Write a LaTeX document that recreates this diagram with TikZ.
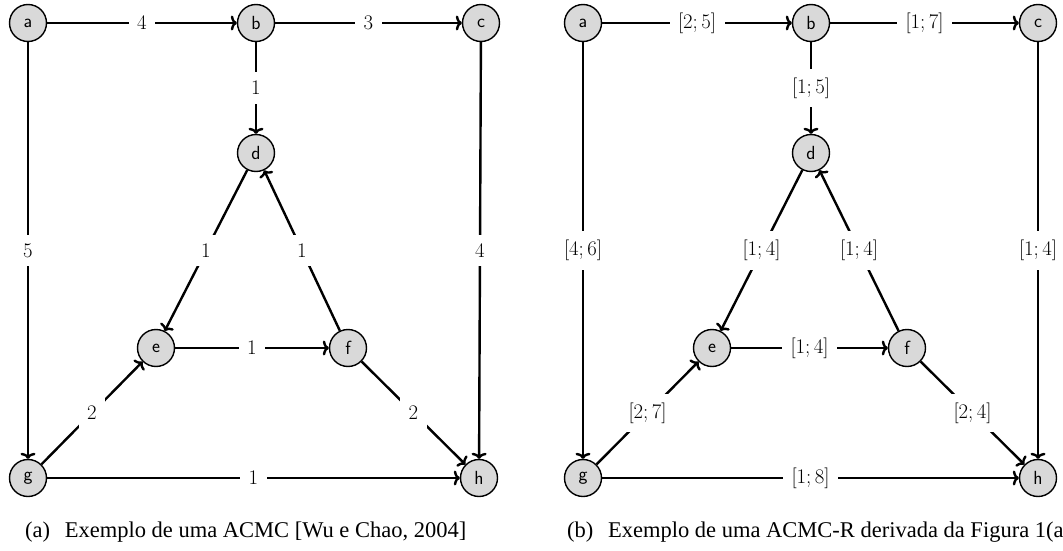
\documentclass[tikz,border=0pt]{standalone}
\usepackage{fontspec}
\newfontfamily\capfont{Liberation Serif}
\usetikzlibrary{arrows.meta}
\begin{document}
\begin{tikzpicture}[x=1pt,y=-1pt,
  vert/.style={circle,draw,line width=1.4pt,fill=black!15,minimum size=37pt,inner sep=0pt,font=\sffamily\fontsize{19}{19}\selectfont},
  edge/.style={line width=2.4pt,-{To[length=6pt,width=15pt]}},
  lbl/.style={fill=white,inner xsep=8.5pt,inner ysep=9pt,font=\fontsize{22}{22}\selectfont},
  captext/.style={font=\capfont\fontsize{22.5}{24}\selectfont,anchor=base west,inner sep=0pt}]
\fill[white] (0,0) rectangle (1063,551);
\useasboundingbox (0,0) rectangle (1063,551);
% ---------- left graph ----------
\node[vert] (a1) at (28,23) {a};
\node[vert] (b1) at (256,23) {b};
\node[vert] (c1) at (481,23) {c};
\node[vert] (d1) at (256,153) {d};
\node[vert] (e1) at (156,348) {e};
\node[vert] (f1) at (348,348) {f};
\node[vert] (g1) at (28,478) {g};
\node[vert] (h1) at (479,478) {h};
\draw[edge] (a1) -- node[lbl]{$4$} (b1);
\draw[edge] (b1) -- node[lbl]{$3$} (c1);
\draw[edge] (b1) -- node[lbl]{$1$} (d1);
\draw[edge] (a1) -- node[lbl]{$5$} (g1);
\draw[edge] (c1) -- node[lbl]{$4$} (h1);
\draw[edge] (d1) -- node[lbl]{$1$} (e1);
\draw[edge] (f1) -- node[lbl]{$1$} (d1);
\draw[edge] (e1) -- node[lbl]{$1$} (f1);
\draw[edge] (g1) -- node[lbl]{$2$} (e1);
\draw[edge] (f1) -- node[lbl]{$2$} (h1);
\draw[edge] (g1) -- node[lbl]{$1$} (h1);
% ---------- right graph ----------
\node[vert] (a2) at (583,23) {a};
\node[vert] (b2) at (811,23) {b};
\node[vert] (c2) at (1038,23) {c};
\node[vert] (d2) at (811,153) {d};
\node[vert] (e2) at (712,348) {e};
\node[vert] (f2) at (907,348) {f};
\node[vert] (g2) at (583,478) {g};
\node[vert] (h2) at (1038,478) {h};
\draw[edge] (a2) -- node[lbl]{$[2;5]$} (b2);
\draw[edge] (b2) -- node[lbl]{$[1;7]$} (c2);
\draw[edge] (b2) -- node[lbl]{$[1;5]$} (d2);
\draw[edge] (a2) -- node[lbl]{$[4;6]$} (g2);
\draw[edge] (c2) -- node[lbl]{$[1;4]$} (h2);
\draw[edge] (d2) -- node[lbl]{$[1;4]$} (e2);
\draw[edge] (f2) -- node[lbl]{$[1;4]$} (d2);
\draw[edge] (e2) -- node[lbl]{$[1;4]$} (f2);
\draw[edge] (g2) -- node[lbl]{$[2;7]$} (e2);
\draw[edge] (f2) -- node[lbl]{$[2;4]$} (h2);
\draw[edge] (g2) -- node[lbl]{$[1;8]$} (h2);
% ---------- captions ----------
\node[captext] (capa) at (25,537) {(a)\hspace{0.65em}Exemplo de uma ACMC [Wu e Chao, 2004]};
\node[captext] (capb) at (567,537) {(b)\hspace{0.65em}Exemplo de uma ACMC-R derivada da Figura 1(a)};
\end{tikzpicture}
\end{document}
